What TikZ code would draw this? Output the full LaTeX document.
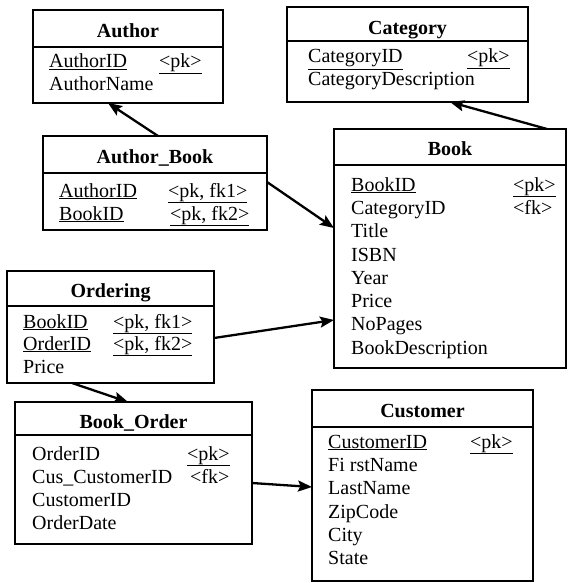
\documentclass[tikz,border=0pt]{standalone}
\usepackage{fontspec}
\setmainfont{Liberation Serif}
\usetikzlibrary{arrows.meta,calc}
\begin{document}
\begin{tikzpicture}[x=1pt,y=-1pt,
  ent/.style={draw, line width=2.3pt, anchor=north west, inner sep=0pt, outer sep=0pt},
  sep/.style={line width=2.3pt},
  ttl/.style={anchor=base, inner sep=0pt, font=\fontsize{20}{24}\selectfont\bfseries},
  fld/.style={anchor=base west, inner sep=0pt, font=\fontsize{20}{24}\selectfont},
  rel/.style={line width=2.3pt, -{Stealth[length=14pt,width=11pt,inset=2.5pt]}}]
\useasboundingbox (0,0) rectangle (571,583);

% Author
\node[ent, minimum width=190pt, minimum height=93pt] (author) at (33,10) {};
\draw[sep] (33,47) -- (223,47);
\node[ttl] (authorT) at (128,38) {Author};
\node[fld] (authorF1) at (49,68) {\underline{AuthorID}};
\node[fld] (authorK1) at (159,68) {\underline{<pk>}};
\node[fld] (authorF2) at (49,91) {AuthorName};

% Category
\node[ent, minimum width=241pt, minimum height=95pt] (category) at (287,7) {};
\draw[sep] (287,41) -- (528,41);
\node[ttl] (categoryT) at (407.5,35) {Category};
\node[fld] (categoryF1) at (308,63) {\underline{CategoryID}};
\node[fld] (categoryK1) at (467,63) {\underline{<pk>}};
\node[fld] (categoryF2) at (308,86) {CategoryDescription};

% Author_Book
\node[ent, minimum width=224pt, minimum height=94pt] (ab) at (43,136) {};
\draw[sep] (43,173) -- (267,173);
\node[ttl] (abT) at (155,163) {Author\_Book};
\node[fld] (abF1) at (59,197) {\underline{AuthorID}};
\node[fld] (abK1) at (168,197) {\underline{<pk, fk1>}};
\node[fld] (abF2) at (59,220) {\underline{BookID}};
\node[fld] (abK2) at (170,220) {\underline{<pk, fk2>}};

% Book
\node[ent, minimum width=232pt, minimum height=239pt] (book) at (334,129) {};
\draw[sep] (334,165) -- (566,165);
\node[ttl] (bookT) at (450,155) {Book};
\node[fld] (bookF1) at (351,191) {\underline{BookID}};
\node[fld] (bookK1) at (513,191) {\underline{<pk>}};
\node[fld] (bookF2) at (351,214.3) {CategoryID};
\node[fld] (bookK2) at (513,214.3) {<fk>};
\node[fld] (bookF3) at (351,237.6) {Title};
\node[fld] (bookF4) at (351,261) {ISBN};
\node[fld] (bookF5) at (351,284.2) {Year};
\node[fld] (bookF6) at (351,307.5) {Price};
\node[fld] (bookF7) at (351,330.8) {NoPages};
\node[fld] (bookF8) at (351,354) {BookDescription};

% Ordering
\node[ent, minimum width=207pt, minimum height=112pt] (ordering) at (7,271) {};
\draw[sep] (7,306) -- (214,306);
\node[ttl] (orderingT) at (110.5,297) {Ordering};
\node[fld] (orderingF1) at (23,328) {\underline{BookID}};
\node[fld] (orderingK1) at (113,328) {\underline{<pk, fk1>}};
\node[fld] (orderingF2) at (23,350) {\underline{OrderID}};
\node[fld] (orderingK2) at (113,350) {\underline{<pk, fk2>}};
\node[fld] (orderingF3) at (23,373) {Price};

% Book_Order
\node[ent, minimum width=237pt, minimum height=142pt] (bo) at (15,402) {};
\draw[sep] (15,435) -- (252,435);
\node[ttl] (boT) at (133.5,428) {Book\_Order};
\node[fld] (boF1) at (32,460) {OrderID};
\node[fld] (boK1) at (187,460) {\underline{<pk>}};
\node[fld] (boF2) at (32,483) {Cus\_CustomerID};
\node[fld] (boK2) at (190,483) {<fk>};
\node[fld] (boF3) at (32,506) {CustomerID};
\node[fld] (boF4) at (32,529) {OrderDate};

% Customer
\node[ent, minimum width=221pt, minimum height=191pt] (customer) at (312,390) {};
\draw[sep] (312,427) -- (533,427);
\node[ttl] (customerT) at (422.5,417) {Customer};
\node[fld] (customerF1) at (328,448) {\underline{CustomerID}};
\node[fld] (customerK1) at (470,448) {\underline{<pk>}};
\node[fld] (customerF2) at (328,471.5) {Fi rstName};
\node[fld] (customerF3) at (328,494.8) {LastName};
\node[fld] (customerF4) at (328,518) {ZipCode};
\node[fld] (customerF5) at (328,541.2) {City};
\node[fld] (customerF6) at (328,564.5) {State};

% relationships
\draw[rel] ($(ab.north west)+(115,0)$) -- ($(author.south west)+(75,0)$);
\draw[rel] ($(book.north west)+(213,0)$) -- ($(category.south west)+(163,0)$);
\draw[rel] ($(ab.north east)+(0,46)$) -- ($(book.north west)+(0,99)$);
\draw[rel] ($(ordering.north east)+(0,67)$) -- ($(book.north west)+(0,191)$);
\draw[rel] ($(ordering.south west)+(65,0)$) -- ($(bo.north west)+(113,0)$);
\draw[rel] ($(bo.north east)+(0,81)$) -- ($(customer.north west)+(0,97)$);
\end{tikzpicture}
\end{document}
